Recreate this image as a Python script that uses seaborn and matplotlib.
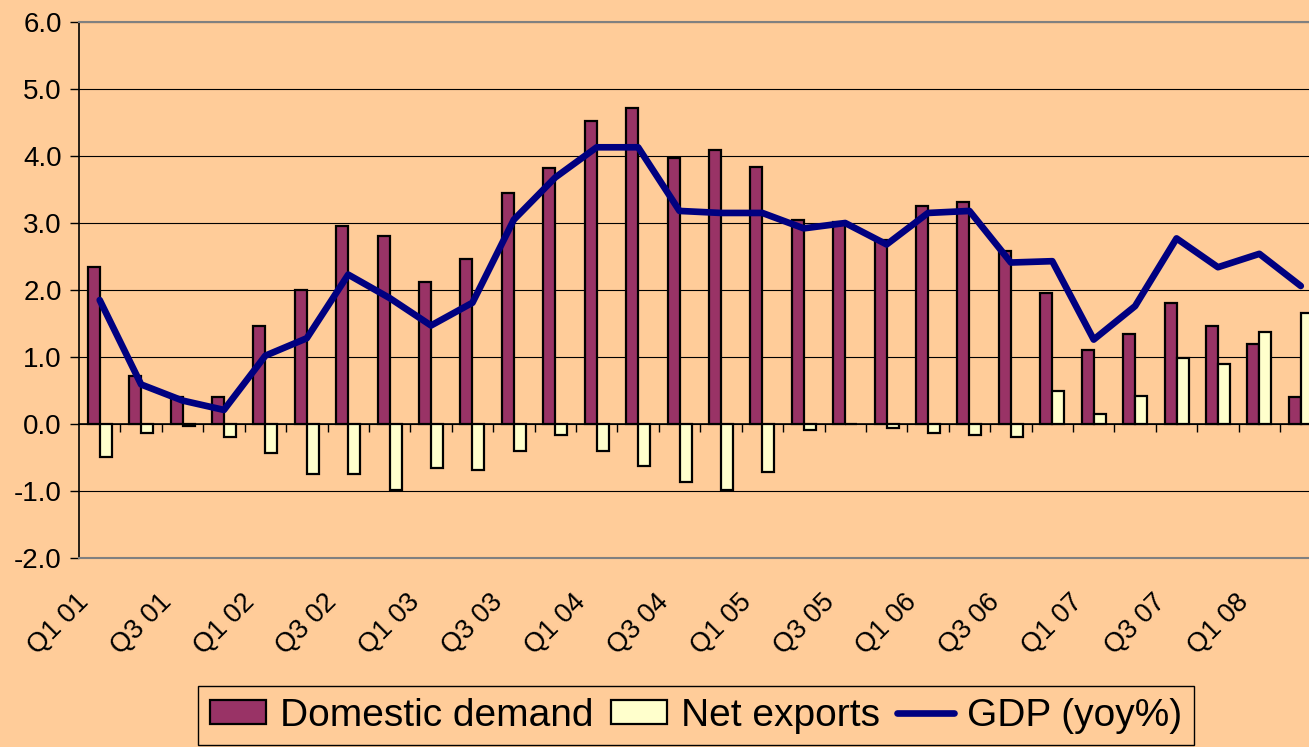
import matplotlib
matplotlib.use("Agg")
import matplotlib.pyplot as plt
import matplotlib.transforms as mtransforms
import seaborn as sns
import pandas as pd
import numpy as np

# Quarterly contributions to growth, Q1 01 - Q2 08
quarters = [f"Q{q} {y:02d}" for y in range(1, 9) for q in range(1, 5)][:30]
domestic_demand = [2.34, 0.71, 0.40, 0.40, 1.47, 2.00, 2.96, 2.81, 2.12, 2.46,
                   3.45, 3.82, 4.52, 4.71, 3.97, 4.09, 3.84, 3.04, 3.01, 2.74,
                   3.26, 3.32, 2.58, 1.96, 1.11, 1.35, 1.81, 1.47, 1.19, 0.40]
net_exports = [-0.50, -0.13, -0.03, -0.19, -0.43, -0.74, -0.74, -0.99, -0.65, -0.68,
               -0.40, -0.16, -0.40, -0.62, -0.86, -0.99, -0.71, -0.09, 0.00, -0.06,
               -0.13, -0.17, -0.19, 0.49, 0.15, 0.42, 0.99, 0.89, 1.38, 1.66]
gdp = [1.85, 0.59, 0.35, 0.21, 1.02, 1.28, 2.23, 1.88, 1.47, 1.81,
       3.05, 3.68, 4.13, 4.13, 3.18, 3.15, 3.15, 2.92, 3.00, 2.68,
       3.15, 3.18, 2.41, 2.43, 1.26, 1.76, 2.77, 2.34, 2.54, 2.06]
series_names = ["Domestic demand", "Net exports", "GDP (yoy%)"]

bg = "#FFCC99"
df_bars = pd.DataFrame({
    "quarter": quarters * 2,
    "series": [series_names[0]] * 30 + [series_names[1]] * 30,
    "value": domestic_demand + net_exports,
})
df_line = pd.DataFrame({"pos": np.arange(len(quarters)), "gdp": gdp})

sns.set_style("white")
plt.rcParams["font.family"] = ["Liberation Sans", "DejaVu Sans"]
plt.rcParams["text.color"] = "black"
plt.rcParams["xtick.color"] = "black"
plt.rcParams["ytick.color"] = "black"

fig = plt.figure(figsize=(13.09, 7.47), dpi=100, facecolor=bg)
W, H = 1309, 747
ax = fig.add_axes([79 / W, 1 - 558 / H, (1321.5 - 79) / W, (558 - 22) / H])
ax.set_facecolor(bg)

sns.barplot(data=df_bars, x="quarter", y="value", hue="series",
            palette=["#993366", "#FFFFCC"], saturation=1, width=0.58,
            edgecolor="black", linewidth=1.6, ax=ax)
sns.lineplot(data=df_line, x="pos", y="gdp", color="#000080", linewidth=4.8,
             label=series_names[2], ax=ax, zorder=5)

ax.set_xlim(-0.5, 29.5)
ax.set_ylim(-2, 6)
ax.set_yticks(np.arange(-2, 7, 1))
ax.set_yticklabels([f"{v:.1f}" for v in np.arange(-2, 7, 1)], fontsize=20)
ax.tick_params(axis="y", direction="out", length=6.5, width=1, color="black",
               labelcolor="black", pad=6, left=True)
ax.yaxis.grid(True, color="black", linewidth=0.8)
ax.set_axisbelow(True)

# x labels (every other quarter) at the bottom
ax.set_xticks(range(0, 30, 2))
ax.set_xticklabels(quarters[0::2], fontsize=19.5, rotation=45, ha="right",
                   va="center", rotation_mode="anchor", color="black")
ax.tick_params(axis="x", length=0, pad=29)
offset = mtransforms.ScaledTranslation(-0.15, 0, fig.dpi_scale_trans)
for lbl in ax.get_xticklabels():
    lbl.set_transform(lbl.get_transform() + offset)

ax.set_xlabel("")
ax.set_ylabel("")
for side in ["top", "bottom", "right"]:
    ax.spines[side].set_color("#808080")
    ax.spines[side].set_linewidth(1.5)
ax.spines["left"].set_color("black")
ax.spines["left"].set_linewidth(1.2)

# zero line category axis with boundary ticks
sec = ax.secondary_xaxis(0.25)
sec.set_xticks(np.arange(0.5, 29.5, 1))
sec.set_xticklabels([])
sec.tick_params(direction="out", length=6, width=1, color="black")
sec.spines["bottom"].set_color("black")
sec.spines["bottom"].set_linewidth(1.2)

handles, labels = ax.get_legend_handles_labels()
ax.get_legend().remove()
leg = fig.legend(handles, labels, loc="upper left",
                 bbox_to_anchor=(198 / W, 1 - 686 / H), ncol=3,
                 fontsize=28, frameon=True, fancybox=False, edgecolor="black",
                 facecolor=bg, framealpha=1, borderaxespad=0, borderpad=0.3,
                 handlelength=1.45, handleheight=0.6, handletextpad=0.35,
                 columnspacing=0.45)
leg.get_frame().set_linewidth(1)

fig.savefig("out.png", dpi=100, facecolor=bg)
